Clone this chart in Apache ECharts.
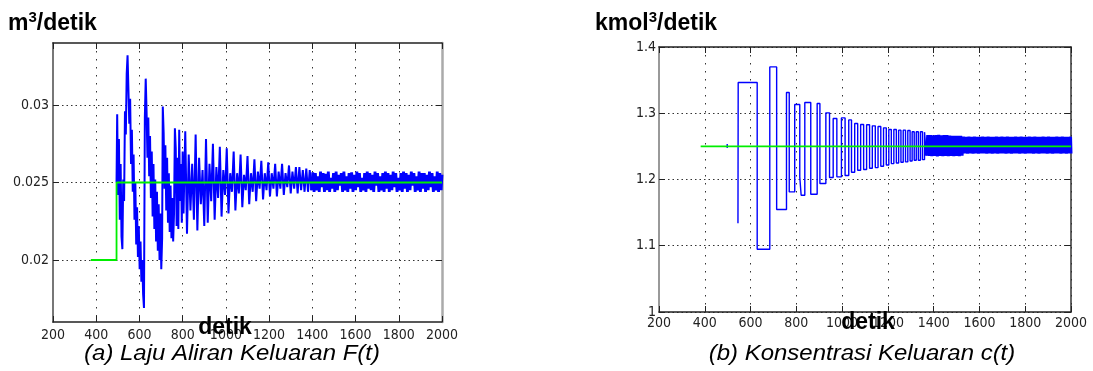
<!DOCTYPE html>
<html>
<head>
<meta charset="utf-8">
<script src="https://cdn.jsdelivr.net/npm/echarts@6/dist/echarts.min.js"></script>
<style>
html,body{margin:0;padding:0;background:#fff;}
#c{width:1093px;height:371px;}
</style>
</head>
<body>
<div id="c"></div>
<script>
// ---------- data ----------
const timeTicks = [200, 400, 600, 800, 1000, 1200, 1400, 1600, 1800, 2000];
const flowYTicks = [0.02, 0.025, 0.03];
const flowYLabels = ['0.02', '0.025', '0.03'];
const concYLabels = ['1', '1.1', '1.2', '1.3', '1.4'];

const flowSetpoint = [[375, 0.02], [494, 0.02], [494, 0.025], [2000, 0.025]];
const flowOutput = [
[494,0.0250],[497,0.0294],[501,0.0242],[505,0.0278],[509,0.0226],[513,0.0262],[517,0.0215],[521,0.0207],[525,0.0252],[529,0.0238],
[533,0.0296],[537,0.0281],[541,0.0320],[545,0.0332],[549,0.0310],[553,0.0288],[557,0.0304],[561,0.0262],[565,0.0284],[569,0.0244],
[573,0.0268],[577,0.0226],[581,0.0250],[585,0.0210],[589,0.0234],[593,0.0202],[597,0.0222],[601,0.0194],[605,0.0212],[609,0.0186],
[613,0.0200],[617,0.0178],[621,0.0169],[625,0.0292],[629,0.0317],[633,0.0296],[637,0.0266],[641,0.0292],[645,0.0254],[649,0.0280],
[653,0.0240],[657,0.0270],[661,0.0228],[665,0.0262],[669,0.0220],[673,0.0252],[677,0.0212],[681,0.0244],[685,0.0206],[689,0.0236],
[693,0.0200],[697,0.0230],[701,0.0194],[705,0.0214],[708,0.0299],[712,0.0282],[716,0.0246],[720,0.0274],[724,0.0232],[728,0.0266],
[732,0.0224],[736,0.0256],[740,0.0218],[744,0.0248],[748,0.0214],[752,0.0240],[756,0.0212],[760,0.0230],[764,0.0285],[768,0.0272],
[772,0.0222],[776,0.0266],[780,0.0220],[784,0.0284],[788,0.0238],[792,0.0262],[796,0.0224],[800,0.0270],[804,0.0230],[812,0.0283],
[820,0.0217],[828,0.0268],[836,0.0232],[844,0.0262],[852,0.0226],[860,0.0281],[868,0.0219],[876,0.0266],[884,0.0236],[892,0.0258],
[900,0.0222],[908,0.0278],[916,0.0224],[924,0.0262],[932,0.0238],[940,0.0275],[948,0.0226],[956,0.0260],[964,0.0240],[972,0.0273],
[980,0.0228],[988,0.0258],[996,0.0242],[1004,0.0272],[1012,0.0230],[1020,0.0256],[1028,0.0244],[1036,0.0270],[1044,0.0232],[1052,0.0256],
[1060,0.0243],[1068,0.0268],[1076,0.0234],[1084,0.0255],[1092,0.0245],[1100,0.0267],[1108,0.0236],[1116,0.0256],[1124,0.0244],[1132,0.0265],
[1140,0.0238],[1148,0.0257],[1156,0.0246],[1164,0.0264],[1172,0.0239],[1180,0.0256],[1188,0.0245],[1196,0.0263],[1204,0.0241],[1212,0.0256],
[1220,0.0246],[1228,0.0262],[1236,0.0241],[1244,0.0257],[1252,0.0246],[1260,0.0262],[1268,0.0242],[1276,0.0256],[1284,0.0247],[1292,0.0261],
[1300,0.0243],[1308,0.0257],[1316,0.0246],[1324,0.0260],[1332,0.0243],[1340,0.0260],[1348,0.0245],[1356,0.0258],[1364,0.0244],[1372,0.0259],
[1380,0.0244],[1388,0.0258],[1396,0.0245]
];
const flowOutputDense = [
[1396,0.0245],
[1402,0.02565],[1408,0.0244],[1414,0.0256],[1420,0.0245],[1426,0.0254],[1432,0.0244],[1438,0.0257],[1444,0.0247],[1450,0.0256],[1456,0.0244],
[1462,0.02555],[1468,0.0245],[1474,0.0257],[1480,0.0244],[1486,0.0253],[1492,0.0246],[1498,0.0256],[1504,0.0244],[1510,0.0257],[1516,0.0245],
[1522,0.0255],[1528,0.0248],[1534,0.0256],[1540,0.0244],[1546,0.0257],[1552,0.0245],[1558,0.0254],[1564,0.0244],[1570,0.0256],[1576,0.0246],
[1582,0.02565],[1588,0.0244],[1594,0.0255],[1600,0.0245],[1606,0.0257],[1612,0.0247],[1618,0.0256],[1624,0.0244],[1630,0.0253],[1636,0.0245],
[1642,0.0256],[1648,0.0244],[1654,0.0257],[1660,0.0246],[1666,0.0256],[1672,0.0245],[1678,0.0255],[1684,0.0244],[1690,0.0257],[1696,0.0248],
[1702,0.0256],[1708,0.0244],[1714,0.0254],[1720,0.0245],[1726,0.0256],[1732,0.0244],[1738,0.0257],[1744,0.0246],[1750,0.0256],[1756,0.0244],
[1762,0.0255],[1768,0.0245],[1774,0.0257],[1780,0.0247],[1786,0.0256],[1792,0.0244],[1798,0.0253],[1804,0.0245],[1810,0.0256],[1816,0.0244],
[1822,0.0257],[1828,0.0246],[1834,0.0256],[1840,0.0244],[1846,0.0255],[1852,0.0245],[1858,0.0257],[1864,0.0248],[1870,0.0256],[1876,0.0244],
[1882,0.0254],[1888,0.0245],[1894,0.0257],[1900,0.0244],[1906,0.0256],[1912,0.0246],[1918,0.0256],[1924,0.0244],[1930,0.0255],[1936,0.0245],
[1942,0.0257],[1948,0.0247],[1954,0.0256],[1960,0.0244],[1966,0.0254],[1972,0.0245],[1978,0.0257],[1984,0.0244],[1990,0.0256],[1996,0.0245],
[2000,0.0255]
];

const concSetpoint = [[382, 1.25], [2000, 1.25]];
const concOutput = [
[498,1.2475],[498,1.2535],[500,'-'],
[545,1.134],[546,1.3465],[629,1.0947],[684,1.370],[714,1.1547],[757,1.3314],[769,1.1813],[793,1.3133],[815,1.2039],[821,1.1763],
[837,1.3163],[863,1.1778],[891,1.3148],[903,1.194],[929,1.3006],[945,1.2030],[961,1.2920],[977,1.2040],[997,1.2930],[1013,1.2060],
[1029,1.2900],[1041,1.2110],[1055,1.2846],[1068,1.2140],[1081,1.2830],[1094,1.2150],[1107,1.2826],[1120,1.2170],[1132,1.2810],[1145,1.2180],
[1157,1.2800],[1169,1.2200],[1181,1.2780],[1193,1.2220],[1204,1.2755],[1215,1.2240],[1226,1.2755],[1237,1.2250],[1247,1.2745],[1257,1.2260],
[1267,1.2745],[1277,1.2266],[1287,1.2740],[1297,1.2280],[1306,1.2720],[1315,1.2290],[1324,1.2720],[1333,1.2290],[1342,1.2720],[1351,1.2300],
[1360,1.2715],[1368,1.2360]
];
const concOutputDense = [
[1368,1.2360],
[1374,1.2670],[1380,1.2355],[1386,1.2672],[1392,1.2352],[1398,1.2668],[1404,1.2356],[1410,1.2670],[1416,1.2350],[1422,1.2674],[1428,1.2355],
[1434,1.2668],[1440,1.2353],[1446,1.2671],[1452,1.2358],[1458,1.2669],[1464,1.2352],[1470,1.2662],[1476,1.2356],[1482,1.2660],[1488,1.2352],
[1494,1.2658],[1500,1.2357],[1506,1.2660],[1512,1.2354],[1518,1.2657],[1524,1.2360],[1530,1.2646],[1536,1.2394],[1542,1.2644],[1548,1.2392],
[1554,1.2647],[1560,1.2395],[1566,1.2643],[1572,1.2391],[1578,1.2646],[1584,1.2394],[1590,1.2645],[1596,1.2392],[1602,1.2644],[1608,1.2396],
[1614,1.2647],[1620,1.2393],[1626,1.2643],[1632,1.2392],[1638,1.2646],[1644,1.2395],[1650,1.2644],[1656,1.2391],[1662,1.2645],[1668,1.2394],
[1674,1.2647],[1680,1.2392],[1686,1.2643],[1692,1.2396],[1698,1.2646],[1704,1.2393],[1710,1.2644],[1716,1.2391],[1722,1.2647],[1728,1.2394],
[1734,1.2645],[1740,1.2392],[1746,1.2643],[1752,1.2395],[1758,1.2646],[1764,1.2393],[1770,1.2644],[1776,1.2391],[1782,1.2647],[1788,1.2394],
[1794,1.2645],[1800,1.2392],[1806,1.2643],[1812,1.2395],[1818,1.2646],[1824,1.2393],[1830,1.2644],[1836,1.2392],[1842,1.2647],[1848,1.2394],
[1854,1.2645],[1860,1.2391],[1866,1.2643],[1872,1.2395],[1878,1.2646],[1884,1.2393],[1890,1.2644],[1896,1.2392],[1902,1.2647],[1908,1.2394],
[1914,1.2645],[1920,1.2391],[1926,1.2643],[1932,1.2395],[1938,1.2646],[1944,1.2393],[1950,1.2644],[1956,1.2392],[1962,1.2647],[1968,1.2394],
[1974,1.2645],[1980,1.2391],[1986,1.2643],[1992,1.2395],[1998,1.2646],[2000,1.2393]
];

const texts = {
  flowUnit: ['m', '3', '/detik'],
  concUnit: ['kmol', '3', '/detik'],
  xName: 'detik',
  flowCaption: '(a) Laju Aliran Keluaran F(t)',
  concCaption: '(b) Konsentrasi Keluaran c(t)'
};

// ---------- styles ----------
const tickFont = '"Liberation Sans Narrow", "DejaVu Sans Condensed", "Liberation Sans", sans-serif';
const mainFont = '"Liberation Sans", Arial, sans-serif';
const vGrid = {show: true, lineStyle: {color: '#333', width: 1, type: [1.5, 6.5]}};
const hGrid = {show: true, lineStyle: {color: '#333', width: 1, type: [1.5, 3]}};
const tickLabel = {fontFamily: tickFont, fontSize: 14, color: '#222'};

function bottomX(grid) {
  return {
    gridIndex: grid, type: 'value', position: 'bottom', min: 200, max: 2000, interval: 200,
    axisLine: {show: true, onZero: false, lineStyle: {color: '#222', width: 1.5}},
    axisTick: {show: true, inside: true, length: 6, lineStyle: {color: '#222'}},
    axisLabel: Object.assign({margin: grid === 0 ? 6 : 4,
      formatter: v => String(timeTicks[timeTicks.indexOf(v)] ?? v)}, tickLabel),
    splitLine: vGrid
  };
}
function topX(grid) {
  return {
    gridIndex: grid, type: 'value', position: 'top', min: 200, max: 2000, interval: 200,
    axisLine: {show: true, onZero: false, lineStyle: {color: '#222', width: 1.5}},
    axisTick: {show: true, inside: true, length: 6, lineStyle: {color: '#222'}},
    axisLabel: {show: false}, splitLine: {show: false}
  };
}
function unitText(parts) {
  return {
    text: '{b|' + parts[0] + '}{s|' + parts[1] + '}{b|' + parts[2] + '}',
    rich: {b: {fontSize: 23, fontWeight: 'bold', fontFamily: mainFont, lineHeight: 25, verticalAlign: 'bottom'},
           s: {fontSize: 15, fontWeight: 'bold', fontFamily: mainFont, lineHeight: 15, verticalAlign: 'top'}},
    fill: '#000'
  };
}
function blueLine(xi, yi, data, width, step) {
  const s = {type: 'line', xAxisIndex: xi, yAxisIndex: yi, data: data, symbol: 'none',
    lineStyle: {color: '#0000ff', width: width}, z: 3};
  if (step) s.step = 'end';
  return s;
}

const option = {
  animation: false,
  backgroundColor: '#fff',
  grid: [
    {left: 53, top: 43, width: 389, height: 279},
    {left: 659, top: 47, width: 412, height: 265}
  ],
  xAxis: [bottomX(0), topX(0), bottomX(1), topX(1)],
  yAxis: [
    {
      gridIndex: 0, type: 'value', position: 'left', min: 0.016, max: 0.034,
      axisLine: {show: true, onZero: false, lineStyle: {color: '#777', width: 2}},
      axisTick: {show: true, inside: true, length: 6, customValues: flowYTicks, lineStyle: {color: '#222'}},
      axisLabel: Object.assign({margin: 4, customValues: flowYTicks,
        formatter: v => flowYLabels[flowYTicks.findIndex(t => Math.abs(t - v) < 1e-6)] || ''}, tickLabel),
      splitLine: hGrid
    },
    {
      gridIndex: 0, type: 'value', position: 'right', min: 0.016, max: 0.034,
      axisLine: {show: true, onZero: false, lineStyle: {color: '#aaa', width: 2.5}},
      axisTick: {show: true, inside: true, length: 6, customValues: flowYTicks, lineStyle: {color: '#222'}},
      axisLabel: {show: false}, splitLine: {show: false}
    },
    {
      gridIndex: 1, type: 'value', position: 'left', min: 1, max: 1.4, interval: 0.1,
      axisLine: {show: true, onZero: false, lineStyle: {color: '#999', width: 2}},
      axisTick: {show: true, inside: true, length: 6, lineStyle: {color: '#222'}},
      axisLabel: Object.assign({margin: 3, formatter: (v) => concYLabels[Math.round((v - 1) * 10)]}, tickLabel),
      splitLine: hGrid
    },
    {
      gridIndex: 1, type: 'value', position: 'right', min: 1, max: 1.4, interval: 0.1,
      axisLine: {show: true, onZero: false, lineStyle: {color: '#333', width: 1.5}},
      axisTick: {show: true, inside: true, length: 6, lineStyle: {color: '#222'}},
      axisLabel: {show: false}, splitLine: {show: false}
    }
  ],
  series: [
    blueLine(0, 0, flowOutput, 2, false),
    blueLine(0, 0, flowOutputDense, 2.8, false),
    {type: 'line', xAxisIndex: 0, yAxisIndex: 0, data: flowSetpoint, symbol: 'none',
     lineStyle: {color: '#00ee00', width: 1.8}, z: 4},
    blueLine(2, 2, concOutput, 1.4, true),
    blueLine(2, 2, concOutputDense, 3, true),
    {type: 'line', xAxisIndex: 2, yAxisIndex: 2, data: concSetpoint, symbol: 'none',
     lineStyle: {color: '#00ee00', width: 1.8}, z: 4}
  ],
  graphic: [
    {type: 'text', x: 8, y: 10, z: 100, style: unitText(texts.flowUnit)},
    {type: 'text', x: 595, y: 10, z: 100, style: unitText(texts.concUnit)},
    {type: 'text', x: 225, y: 328, z: 100, style: {text: texts.xName, fontSize: 23, fontWeight: 'bold',
      fontFamily: mainFont, fill: '#000', align: 'center', verticalAlign: 'middle'}},
    {type: 'text', x: 868, y: 323, z: 100, style: {text: texts.xName, fontSize: 23, fontWeight: 'bold',
      fontFamily: mainFont, fill: '#000', align: 'center', verticalAlign: 'middle'}},
    {type: 'text', x: 232, y: 354, z: 100, scaleX: 1.09, style: {text: texts.flowCaption, fontSize: 22, fontStyle: 'italic',
      fontFamily: mainFont, fill: '#000', align: 'center', verticalAlign: 'middle'}},
    {type: 'text', x: 862, y: 354, z: 100, scaleX: 1.09, style: {text: texts.concCaption, fontSize: 22, fontStyle: 'italic',
      fontFamily: mainFont, fill: '#000', align: 'center', verticalAlign: 'middle'}}
  ]
};

const chart = echarts.init(document.getElementById('c'), null, {renderer: 'canvas'});
chart.setOption(option);
</script>
</body>
</html>
